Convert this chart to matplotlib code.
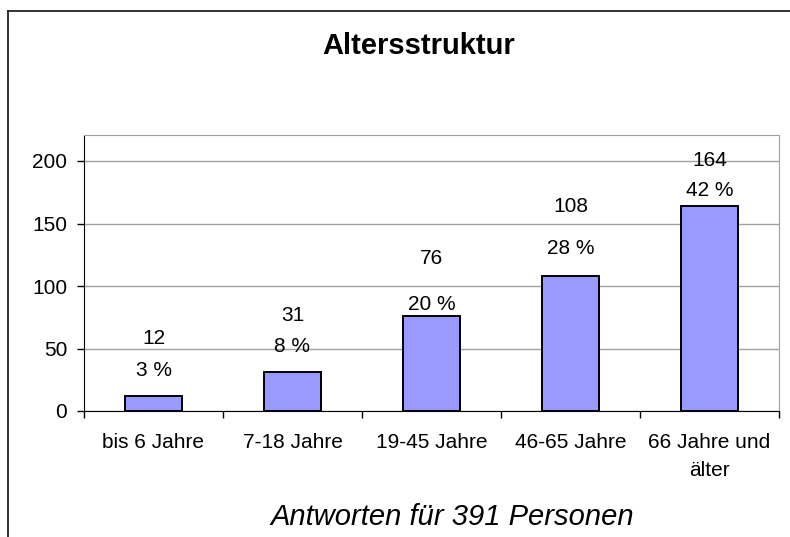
import numpy as np
import matplotlib
matplotlib.use("Agg")
import matplotlib.pyplot as plt
from matplotlib.lines import Line2D

plt.rcParams['font.family'] = ['Liberation Sans', 'DejaVu Sans']

# Data
categories = ["bis 6 Jahre", "7-18 Jahre", "19-45 Jahre", "46-65 Jahre", "66 Jahre und\nälter"]
counts = [12, 31, 76, 108, 164]
percents = [3, 8, 20, 28, 42]
y_ticks = [0, 50, 100, 150, 200]

# label offsets above the bar top (pixels), as placed in the original
pct_offset = [26, 26, 12, 28, 16]
cnt_offset = [57, 57, 57, 70, 46]

W, H = 790, 537
fig = plt.figure(figsize=(W / 100, H / 100), dpi=100)

left, right, top, bottom = 84, 779, 135, 411
ax = fig.add_axes([left / W, 1 - bottom / H, (right - left) / W, (bottom - top) / H])

x = np.arange(len(categories))
ax.bar(x, counts, width=0.41, color='#9999ff', edgecolor='black', linewidth=1.4, zorder=3)

ax.set_xlim(-0.5, len(categories) - 0.5)
ax.set_ylim(0, (bottom - top) / 1.25)

# gridlines
ax.set_yticks(y_ticks)
ax.yaxis.grid(True, color='#a0a0a0', linewidth=1)
ax.set_axisbelow(True)
ax.tick_params(axis='y', direction='out', length=5, width=1, pad=7, labelsize=15)

# category boundaries as ticks, labels at centres
ax.set_xticks(np.arange(-0.5, len(categories)))
ax.set_xticklabels([])
ax.set_xticks(x, minor=True)
ax.set_xticklabels(categories, minor=True, fontsize=15, linespacing=1.6, va='top')
ax.tick_params(axis='x', which='major', direction='out', length=5, width=1)
ax.tick_params(axis='x', which='minor', length=0, pad=16)

for s in ['top', 'right']:
    ax.spines[s].set_color('#a0a0a0')
for s in ['left', 'bottom']:
    ax.spines[s].set_color('black')

# value labels
for xi, c, p, po, co in zip(x, counts, percents, pct_offset, cnt_offset):
    ax.annotate(f"{p} %", (xi, c), xytext=(0, po * 0.72), textcoords='offset points',
                ha='center', va='center', fontsize=15, zorder=4)
    ax.annotate(f"{c}", (xi, c), xytext=(0, co * 0.72), textcoords='offset points',
                ha='center', va='center', fontsize=15, zorder=4)

fig.text(419 / W, 1 - 46 / H, "Altersstruktur", ha='center', va='center',
         fontsize=21, fontweight='bold')
fig.text(452 / W, 1 - 517 / H, "Antworten für 391 Personen", ha='center', va='center',
         fontsize=21, style='italic')

# outer frame (top and left only)
fig.add_artist(Line2D([8 / W, 1], [1 - 11 / H, 1 - 11 / H], color='#222222', linewidth=1.3))
fig.add_artist(Line2D([8 / W, 8 / W], [0, 1 - 11 / H], color='#222222', linewidth=1.3))

fig.savefig("out.png", dpi=100)
